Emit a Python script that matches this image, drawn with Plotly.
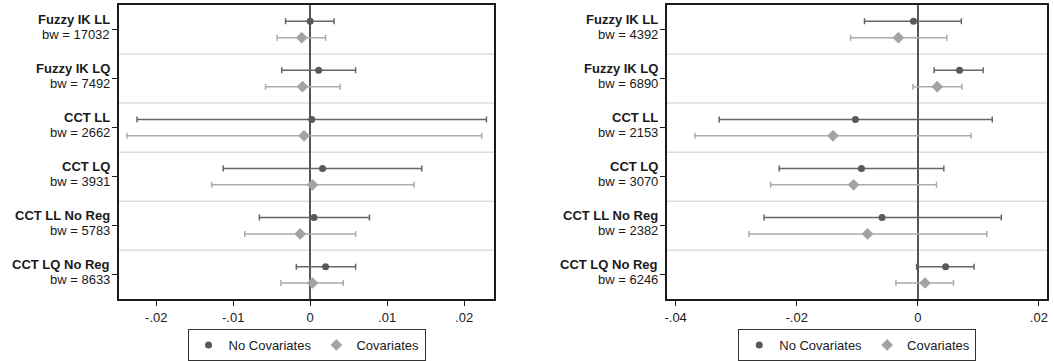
import plotly.graph_objects as go

# Estimator labels and bandwidths for each panel
labels = ["Fuzzy IK LL", "Fuzzy IK LQ", "CCT LL", "CCT LQ", "CCT LL No Reg", "CCT LQ No Reg"]
bw_left = [17032, 7492, 2662, 3931, 5783, 8633]
bw_right = [4392, 6890, 2153, 3070, 2382, 6246]

# Left panel: point estimates and 95% CI bounds
left_nocov = [0.0000, 0.0011, 0.0002, 0.0016, 0.0005, 0.0020]
left_nocov_lo = [-0.0032, -0.0037, -0.0225, -0.0113, -0.0066, -0.0018]
left_nocov_hi = [0.0031, 0.0059, 0.0229, 0.0145, 0.0077, 0.0059]
left_cov = [-0.0011, -0.0010, -0.0008, 0.0003, -0.0013, 0.0003]
left_cov_lo = [-0.0043, -0.0058, -0.0238, -0.0128, -0.0085, -0.0038]
left_cov_hi = [0.0020, 0.0039, 0.0223, 0.0135, 0.0059, 0.0043]

# Right panel: point estimates and 95% CI bounds
right_nocov = [-0.0007, 0.0069, -0.0103, -0.0093, -0.0059, 0.0046]
right_nocov_lo = [-0.0088, 0.0027, -0.0328, -0.0229, -0.0254, -0.0002]
right_nocov_hi = [0.0072, 0.0108, 0.0123, 0.0043, 0.0138, 0.0093]
right_cov = [-0.0032, 0.0032, -0.0140, -0.0106, -0.0083, 0.0012]
right_cov_lo = [-0.0111, -0.0008, -0.0368, -0.0243, -0.0279, -0.0036]
right_cov_hi = [0.0048, 0.0073, 0.0088, 0.0031, 0.0114, 0.0059]

left_ticks = [-0.02, -0.01, 0, 0.01, 0.02]
left_ticktext = ["-.02", "-.01", "0", ".01", ".02"]
right_ticks = [-0.04, -0.02, 0, 0.02]
right_ticktext = ["-.04", "-.02", "0", ".02"]

FONT = "Liberation Sans, Arial, sans-serif"
DARK, DARK_ERR = "#595959", "#666666"
LIGHT, LIGHT_ERR = "#a3a3a3", "#ababab"
OFFSET = 1 / 6

rows = list(range(1, len(labels) + 1))

fig = go.Figure()


def add_series(pts, lo, hi, xaxis, yaxis, sign, name, color, ecolor, symbol, size, legend):
    fig.add_trace(go.Scatter(
        x=pts,
        y=[r + sign * OFFSET for r in rows],
        mode="markers",
        name=name,
        xaxis=xaxis, yaxis=yaxis,
        legend=legend,
        marker=dict(color=color, symbol=symbol, size=size, line=dict(width=0)),
        error_x=dict(
            type="data", symmetric=False,
            array=[h - p for h, p in zip(hi, pts)],
            arrayminus=[p - l for p, l in zip(pts, lo)],
            color=ecolor, thickness=1.5, width=3,
        ),
        hoverinfo="skip",
    ))


add_series(left_nocov, left_nocov_lo, left_nocov_hi, "x", "y", -1, "No Covariates", DARK, DARK_ERR, "circle", 7, "legend")
add_series(left_cov, left_cov_lo, left_cov_hi, "x", "y", 1, "Covariates", LIGHT, LIGHT_ERR, "diamond", 9, "legend")
add_series(right_nocov, right_nocov_lo, right_nocov_hi, "x2", "y2", -1, "No Covariates", DARK, DARK_ERR, "circle", 7, "legend2")
add_series(right_cov, right_cov_lo, right_cov_hi, "x2", "y2", 1, "Covariates", LIGHT, LIGHT_ERR, "diamond", 9, "legend2")

W, H = 1053, 361
y_dom = [1 - 302.7 / H, 1 - 5 / H]

axis_common = dict(
    showline=True, linecolor="#1a1a1a", linewidth=1.5, mirror=True,
    ticks="outside", ticklen=5, tickwidth=1, tickcolor="#1a1a1a",
    showgrid=False,
    tickfont=dict(family=FONT, size=13, color="#1a1a1a"),
)

legend_common = dict(
    orientation="h", xanchor="center", y=1 - 333 / H, yanchor="top",
    bordercolor="#333333", borderwidth=1, font=dict(family=FONT, size=13, color="#1a1a1a"),
    itemwidth=30, tracegroupgap=0,
)

fig.update_layout(
    width=W, height=H,
    margin=dict(l=0, r=0, t=0, b=0),
    paper_bgcolor="white", plot_bgcolor="white",
    font=dict(family=FONT, size=13, color="#1a1a1a"),
    xaxis=dict(domain=[116 / W, 493 / W], range=[-0.0249, 0.0239],
               tickvals=left_ticks, ticktext=left_ticktext,
               zeroline=True, zerolinecolor="#555555", zerolinewidth=1.5, **axis_common),
    yaxis=dict(domain=y_dom, range=[6.5, 0.5], tickvals=rows, ticktext=[""] * 6,
               zeroline=False, anchor="x", **axis_common),
    xaxis2=dict(domain=[666.7 / W, 1048.3 / W], range=[-0.0414, 0.0214],
                tickvals=right_ticks, ticktext=right_ticktext, anchor="y2",
                zeroline=True, zerolinecolor="#555555", zerolinewidth=1.5, **axis_common),
    yaxis2=dict(domain=y_dom, range=[6.5, 0.5], tickvals=rows, ticktext=[""] * 6,
                zeroline=False, anchor="x2", **axis_common),
    legend=dict(x=304.7 / W, **legend_common),
    legend2=dict(x=857.5 / W, **legend_common),
)

# Separators between estimator groups
for yref in ["y", "y2"]:
    xref = "x domain" if yref == "y" else "x2 domain"
    for r in rows[:-1]:
        fig.add_shape(type="line", xref=xref, yref=yref, x0=0, x1=1, y0=r + 0.5, y1=r + 0.5,
                      line=dict(color="#dcdcdc", width=1.5), layer="below")

# Two-line row labels: bold estimator name above its bandwidth
for yref, x_right, bws in [("y", 108 / W, bw_left), ("y2", 658.3 / W, bw_right)]:
    for r, lab, bw in zip(rows, labels, bws):
        fig.add_annotation(xref="paper", yref=yref, x=x_right, y=r, xanchor="right", yanchor="middle",
                           text=f"<b>{lab}</b>", showarrow=False, yshift=10, borderpad=0,
                           font=dict(family=FONT, size=13, color="#1a1a1a"))
        fig.add_annotation(xref="paper", yref=yref, x=x_right, y=r, xanchor="right", yanchor="middle",
                           text=f"bw = {bw}", showarrow=False, yshift=-5, borderpad=0,
                           font=dict(family=FONT, size=13, color="#1a1a1a"))

fig.write_html("out.html")
